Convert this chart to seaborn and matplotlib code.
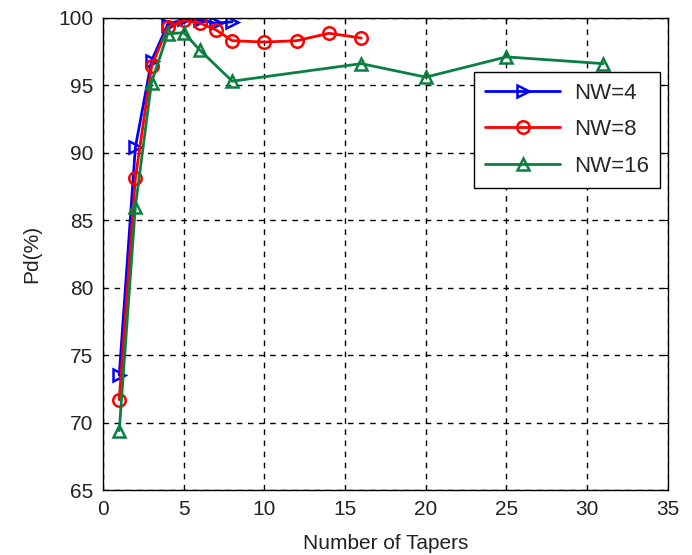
import numpy as np
import pandas as pd
import matplotlib
matplotlib.use("Agg")
import matplotlib.pyplot as plt
import seaborn as sns

x_nw4 = [1, 2, 3, 4, 5, 6, 7, 8]
y_nw4 = [73.5, 90.4, 96.8, 99.5, 99.9, 99.8, 99.6, 99.7]
x_nw8 = [1, 2, 3, 4, 5, 6, 7, 8, 10, 12, 14, 16]
y_nw8 = [71.7, 88.1, 96.4, 99.3, 99.8, 99.6, 99.1, 98.3, 98.2, 98.3, 98.85, 98.5]
x_nw16 = [1, 2, 3, 4, 5, 6, 8, 16, 20, 25, 31]
y_nw16 = [69.4, 86.0, 95.2, 98.8, 98.9, 97.6, 95.3, 96.6, 95.6, 97.1, 96.6]
labels = ["NW=4", "NW=8", "NW=16"]
xticks = [0, 5, 10, 15, 20, 25, 30, 35]
yticks = [65, 70, 75, 80, 85, 90, 95, 100]

df = pd.concat([
    pd.DataFrame({"x": x_nw4, "y": y_nw4, "s": labels[0]}),
    pd.DataFrame({"x": x_nw8, "y": y_nw8, "s": labels[1]}),
    pd.DataFrame({"x": x_nw16, "y": y_nw16, "s": labels[2]}),
])

sns.set_style("white")
plt.rcParams['font.family'] = ['Liberation Sans', 'DejaVu Sans']

fig = plt.figure(figsize=(6.92, 5.55), dpi=100)
ax = fig.add_axes([0.149, 0.117, 0.816, 0.851])

colors = {"NW=4": "#0000ff", "NW=8": "#ff0000", "NW=16": "#0a8040"}
markers = {"NW=4": ">", "NW=8": "o", "NW=16": "^"}
for lab in labels:
    sub = df[df.s == lab]
    sns.lineplot(data=sub, x="x", y="y", ax=ax, color=colors[lab], lw=2,
                 marker=markers[lab], markersize=9, markerfacecolor="none",
                 markeredgecolor=colors[lab], markeredgewidth=1.8, label=lab)

ax.set_xlim(0, 35)
ax.set_ylim(65, 100)
ax.set_xticks(xticks)
ax.set_yticks(yticks)
ax.tick_params(direction="in", length=4, labelsize=15, colors="black",
               top=True, right=True, pad=7)
ax.tick_params(labelcolor="#222222")
ax.grid(True, linestyle=(0, (4, 4)), color="black", lw=1)
for sp in ax.spines.values():
    sp.set_color("black")
    sp.set_linewidth(1)
ax.set_xlabel("Number of Tapers", fontsize=15, color="#222222", labelpad=11)
ax.set_ylabel("Pd(%)", fontsize=15, color="#222222", labelpad=12)

leg = ax.legend(loc="upper right", bbox_to_anchor=(0.986, 0.886), borderaxespad=0,
                fontsize=16, frameon=True, fancybox=False, edgecolor="black",
                framealpha=1, handlelength=3.4, borderpad=0.5, labelspacing=0.7,
                handletextpad=0.6)
leg.get_frame().set_linewidth(1)

fig.savefig("out.png", dpi=100)
